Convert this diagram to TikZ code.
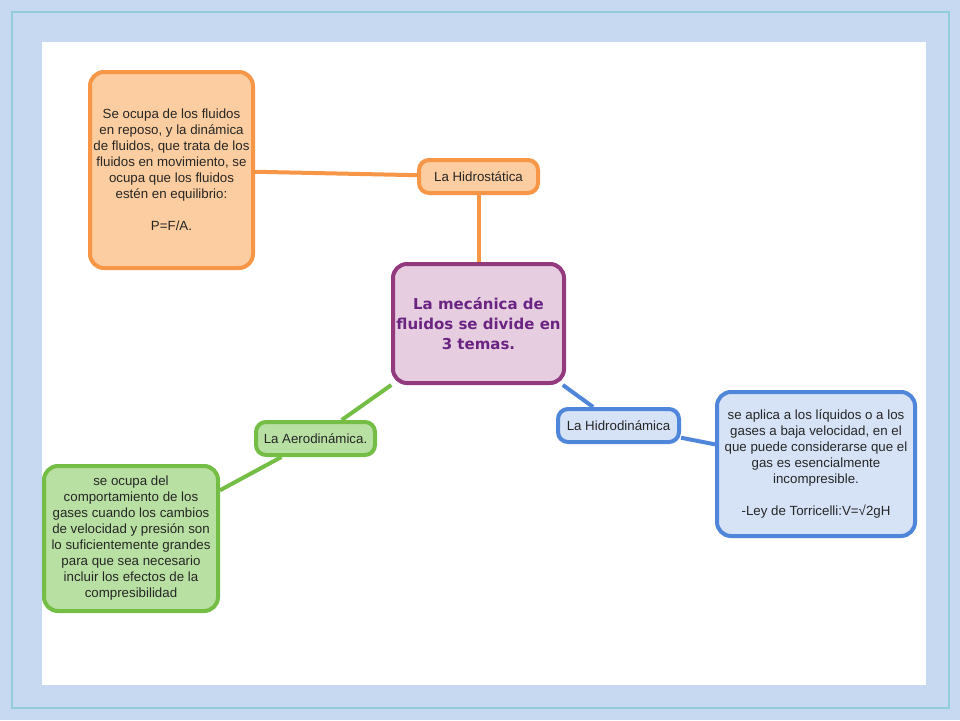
\documentclass[tikz,border=0pt]{standalone}
\usepackage{fontspec}
\setmainfont{Liberation Sans}
\newfontfamily\rootfont{DejaVu Sans}
\usepackage{tikz}
\usetikzlibrary{positioning}
\definecolor{slidebg}{RGB}{198,217,240}
\definecolor{slideline}{RGB}{146,205,220}
\definecolor{orangeline}{RGB}{247,150,70}
\definecolor{orangefill}{RGB}{252,205,160}
\definecolor{purpleline}{RGB}{147,57,126}
\definecolor{purplefill}{RGB}{230,206,224}
\definecolor{purpletext}{RGB}{107,36,130}
\definecolor{blueline}{RGB}{79,134,217}
\definecolor{bluefill}{RGB}{214,227,246}
\definecolor{greenline}{RGB}{116,190,69}
\definecolor{greenfill}{RGB}{185,224,163}
\definecolor{boxtext}{RGB}{38,38,38}
\begin{document}
\begin{tikzpicture}[x=1pt,y=-1pt,line width=4pt,
    topic node/.style={rectangle,rounded corners=10pt,draw,align=center,text=boxtext,
      font=\fontsize{13.3}{16}\selectfont,minimum width=119pt,minimum height=33pt,inner sep=2pt},
    note node/.style={rectangle,rounded corners=14pt,draw,align=center,text=boxtext,
      font=\fontsize{13.3}{16}\selectfont,inner sep=2pt},
    root node/.style={rectangle,rounded corners=14pt,draw=purpleline,fill=purplefill,align=center,
      text=purpletext,font=\rootfont\fontsize{15}{20}\selectfont\bfseries,minimum width=171pt,minimum height=119pt}]
   % slide frame
   \useasboundingbox (0,0) rectangle (960,720);
   \fill[slidebg] (0,0) rectangle (960,720);
   \draw[slideline,line width=2pt] (12,12) rectangle (949,708);
   \fill[white] (42,42) rectangle (926,685);
   % nodes
   \node[root node] (fluids) at (478.5,323.5) {La mecánica de\\fluidos se divide en\\3 temas.};
   \node[topic node,draw=orangeline,fill=orangefill] (statics) at (478.5,176.5) {La Hidrostática};
   \node[note node,draw=orangeline,fill=orangefill,minimum width=163pt,minimum height=196pt] (staticsnote) at (171.5,170)
      {Se ocupa de los fluidos\\en reposo, y la dinámica\\de fluidos, que trata de los\\fluidos en movimiento, se\\ocupa que los fluidos\\estén en equilibrio:\\[16pt]P=F/A.};
   \node[topic node,draw=blueline,fill=bluefill,minimum width=121pt] (dynamics) at (618.5,425.5) {La Hidrodinámica};
   \node[note node,draw=blueline,fill=bluefill,minimum width=198pt,minimum height=144pt] (dynamicsnote) at (816,464)
      {se aplica a los líquidos o a los\\gases a baja velocidad, en el\\que puede considerarse que el\\gas es esencialmente\\incompresible.\\[16pt]-Ley de Torricelli:V=√2gH};
   \node[topic node,draw=greenline,fill=greenfill] (aero) at (315.5,438.5) {La Aerodinámica.};
   \node[note node,draw=greenline,fill=greenfill,minimum width=174pt,minimum height=145pt] (aeronote) at (131,538.5)
      {se ocupa del\\comportamiento de los\\gases cuando los cambios\\de velocidad y presión son\\lo suficientemente grandes\\para que sea necesario\\incluir los efectos de la\\compresibilidad};
   % connectors
   \path[-,orangeline] (staticsnote) edge (statics);
   \path[-,orangeline] (statics) edge (fluids);
   \path[-,blueline] (fluids) edge (dynamics);
   \path[-,blueline] (dynamics) edge (dynamicsnote);
   \path[-,greenline] (fluids) edge (aero);
   \path[-,greenline] (aero) edge (aeronote);
  \end{tikzpicture}
\end{document}
